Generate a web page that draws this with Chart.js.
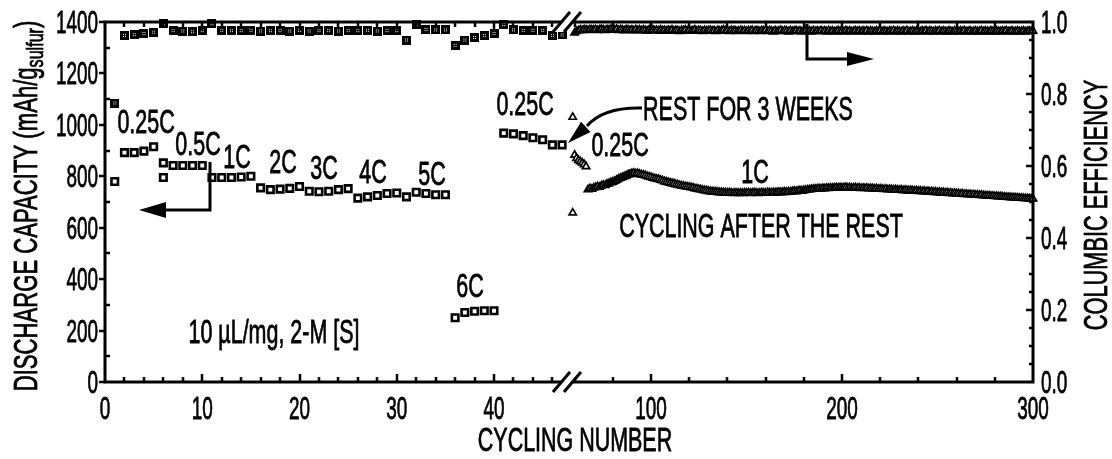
<!DOCTYPE html>
<html>
<head>
<meta charset="utf-8">
<script src="https://cdn.jsdelivr.net/npm/chart.js@4.4.1/dist/chart.umd.min.js"></script>
<style>
  html, body { margin: 0; padding: 0; background: #fff; }
  canvas { display: block; }
</style>
</head>
<body>
<canvas id="chart" width="1112" height="459"></canvas>
<script>
// ---- Rate test (cycles 1-47), hollow squares on the capacity axis ----
const rateCycles = [1, 2, 3, 4, 5, 6, 6, 7, 8, 9, 10, 11, 12, 13, 14, 15, 16, 17, 18, 19, 20,
  21, 22, 23, 24, 25, 26, 27, 28, 29, 30, 31, 32, 33, 34, 35, 36, 37, 38, 39, 40,
  41, 42, 43, 44, 45, 46, 47];
const rateCapacity = [780, 892, 892, 898, 915, 852, 795, 842, 842, 842, 842,
  795, 795, 795, 797, 800, 755, 748, 750, 753, 760,
  742, 740, 742, 748, 752, 715, 720, 725, 733, 735,
  720, 738, 733, 728, 728, 250, 270, 275, 277, 277,
  968, 965, 958, 950, 942, 922, 922];

// Coulombic efficiency of the rate test, cycles 1-47
const rateEffStart = 1;
const rateEfficiency = [0.775, 0.963, 0.965, 0.968, 0.972, 0.995, 0.976, 0.975, 0.973, 0.976,
  0.995, 0.977, 0.976, 0.976, 0.977, 0.975, 0.976, 0.976, 0.975, 0.977,
  0.975, 0.976, 0.976, 0.975, 0.976, 0.976, 0.977, 0.975, 0.976, 0.976,
  0.950, 0.992, 0.979, 0.978, 0.978, 0.935, 0.950, 0.957, 0.963, 0.968,
  0.993, 0.978, 0.977, 0.977, 0.977, 0.963, 0.964];

// ---- After the 3-week rest (cycles 59-300), triangles ----
const restStart = 59;
const restCapacity = [1030,
  883, 870, 862, 857, 852, 846, 838,
  748, 752, 750, 755, 757, 760, 758, 763, 766, 765,
  770, 772, 776, 778, 781, 785, 790, 793, 796, 799,
  802, 806, 808, 811, 812, 810, 811, 808, 806, 805,
  803, 800, 798, 796, 793, 791, 789, 788, 785, 783,
  780, 778, 776, 774, 772, 771, 768, 767, 765, 763,
  762, 760, 759, 758, 756, 755, 752, 751, 749, 748,
  746, 745, 744, 742, 741, 740, 739, 739, 738, 737,
  737, 736, 736, 735, 736, 735, 734, 735, 735, 734,
  735, 734, 735, 735, 736, 734, 735, 736, 735, 734,
  735, 736, 735, 735, 737, 736, 735, 737, 736, 737,
  738, 737, 738, 739, 738, 740, 739, 741, 742, 741,
  743, 744, 743, 745, 746, 747, 748, 749, 750, 750,
  751, 752, 751, 753, 752, 754, 753, 755, 754, 755,
  756, 755, 756, 755, 756, 757, 755, 756, 754, 755,
  756, 754, 755, 753, 754, 753, 754, 752, 753, 752,
  751, 752, 750, 751, 750, 749, 750, 748, 749, 748,
  747, 748, 747, 746, 747, 745, 746, 745, 744, 745,
  744, 743, 744, 742, 743, 741, 742, 740, 741, 739,
  740, 738, 739, 737, 738, 736, 737, 735, 736, 734,
  735, 733, 734, 732, 733, 731, 732, 730, 731, 729,
  730, 728, 729, 727, 728, 726, 727, 725, 725, 724,
  724, 723, 723, 722, 722, 721, 721, 720, 719, 719,
  718, 718, 717, 717, 716, 716, 715, 715, 714, 714,
  713, 713, 712, 712];
const restEfficiency = [0.47,
  0.970, 0.974, 0.976, 0.978, 0.977, 0.979, 0.978, 0.977, 0.979, 0.978,
  0.978, 0.979, 0.977, 0.978, 0.980, 0.978, 0.977, 0.979, 0.978, 0.980,
  0.979, 0.978, 0.980, 0.977, 0.979, 0.978, 0.976, 0.979, 0.978, 0.977,
  0.978, 0.976, 0.979, 0.977, 0.978, 0.976, 0.978, 0.977, 0.975, 0.978,
  0.977, 0.978, 0.976, 0.977, 0.975, 0.978, 0.976, 0.977, 0.975, 0.977,
  0.976, 0.978, 0.975, 0.977, 0.976, 0.974, 0.977, 0.976, 0.978, 0.975,
  0.977, 0.975, 0.976, 0.978, 0.975, 0.977, 0.976, 0.974, 0.977, 0.975,
  0.976, 0.977, 0.975, 0.976, 0.974, 0.977, 0.975, 0.976, 0.978, 0.975,
  0.976, 0.974, 0.977, 0.975, 0.976, 0.974, 0.975, 0.977, 0.975, 0.976,
  0.974, 0.976, 0.975, 0.977, 0.974, 0.976, 0.975, 0.974, 0.976, 0.975,
  0.977, 0.974, 0.976, 0.975, 0.973, 0.976, 0.974, 0.975, 0.977, 0.974,
  0.976, 0.975, 0.973, 0.976, 0.974, 0.975, 0.976, 0.974, 0.975, 0.973,
  0.975, 0.976, 0.974, 0.975, 0.973, 0.976, 0.974, 0.975, 0.974, 0.976,
  0.974, 0.975, 0.973, 0.976, 0.974, 0.975, 0.973, 0.974, 0.976, 0.974,
  0.975, 0.973, 0.976, 0.974, 0.975, 0.973, 0.974, 0.976, 0.974, 0.975,
  0.973, 0.975, 0.974, 0.976, 0.973, 0.975, 0.974, 0.973, 0.975, 0.974,
  0.976, 0.973, 0.975, 0.974, 0.973, 0.975, 0.974, 0.976, 0.973, 0.975,
  0.974, 0.973, 0.975, 0.974, 0.976, 0.973, 0.974, 0.975, 0.973, 0.975,
  0.974, 0.973, 0.975, 0.974, 0.976, 0.973, 0.975, 0.974, 0.973, 0.975,
  0.974, 0.976, 0.973, 0.975, 0.974, 0.973, 0.975, 0.974, 0.973, 0.975,
  0.974, 0.973, 0.975, 0.974, 0.976, 0.973, 0.974, 0.975, 0.973, 0.974,
  0.975, 0.973, 0.974, 0.976, 0.973, 0.975, 0.974, 0.973, 0.975, 0.974,
  0.973, 0.975, 0.974, 0.973, 0.975, 0.974, 0.976, 0.973, 0.974, 0.975,
  0.973, 0.974, 0.975, 0.973, 0.974, 0.975, 0.973, 0.974, 0.975, 0.974,
  0.975];

// ---- Axis ticks ----
const cycleTicks = [0, 10, 20, 30, 40, 100, 200, 300];
const capacityTicks = [0, 200, 400, 600, 800, 1000, 1200, 1400];
const efficiencyTicks = [0, 0.2, 0.4, 0.6, 0.8, 1.0];
const efficiencyTickLabels = ['0.0', '0.2', '0.4', '0.6', '0.8', '1.0'];

// Broken cycle axis: 0-47.5 fills the left half, 56-300 the right half
const BREAK_LEFT = 47.5;
const BREAK_RIGHT = 56;
const CYCLE_MAX = 300;
const LEFT_SHARE = 0.4978;

function brokenFraction(v) {
  if (v <= BREAK_LEFT) return (v / BREAK_LEFT) * LEFT_SHARE;
  if (v < BREAK_RIGHT) return LEFT_SHARE;
  return LEFT_SHARE + ((v - BREAK_RIGHT) / (CYCLE_MAX - BREAK_RIGHT)) * (1 - LEFT_SHARE);
}
function brokenValue(f) {
  if (f <= LEFT_SHARE) return (f / LEFT_SHARE) * BREAK_LEFT;
  return BREAK_RIGHT + ((f - LEFT_SHARE) / (1 - LEFT_SHARE)) * (CYCLE_MAX - BREAK_RIGHT);
}

class BrokenLinearScale extends Chart.LinearScale {
  getPixelForValue(value) {
    return this.getPixelForDecimal(brokenFraction(value));
  }
  getValueForPixel(pixel) {
    return brokenValue(this.getDecimalForPixel(pixel));
  }
}
BrokenLinearScale.id = 'brokenLinear';
Chart.register(BrokenLinearScale);

// Dotted square marker for the efficiency points of the rate test
function dottedSquare() {
  const c = document.createElement('canvas');
  c.width = 9; c.height = 9;
  const g = c.getContext('2d');
  g.fillStyle = '#000';
  g.fillRect(0, 0, 9, 9);
  g.fillStyle = '#fff';
  for (const i of [3, 5]) for (const j of [3, 5]) g.fillRect(i, j, 1, 1);
  return c;
}

const FONT = '"Liberation Sans", Arial, Helvetica, sans-serif';

function drawText(ctx, s, x, y, opts = {}) {
  const size = opts.size || 33;
  const sx = opts.sx || 0.65;
  ctx.save();
  ctx.translate(x, y);
  if (opts.rot) ctx.rotate(opts.rot);
  ctx.scale(sx, 1);
  ctx.font = size + 'px ' + FONT;
  ctx.textAlign = opts.align || 'center';
  ctx.textBaseline = 'alphabetic';
  ctx.fillStyle = '#000';
  ctx.strokeStyle = '#000';
  ctx.lineWidth = 0.8;
  ctx.fillText(s, 0, 0);
  ctx.strokeText(s, 0, 0);
  ctx.restore();
}

function line(ctx, pts, w) {
  ctx.beginPath();
  ctx.moveTo(pts[0][0], pts[0][1]);
  for (let i = 1; i < pts.length; i++) ctx.lineTo(pts[i][0], pts[i][1]);
  ctx.lineWidth = w;
  ctx.stroke();
}
function head(ctx, tip, from, len, half) {
  const dx = tip[0] - from[0], dy = tip[1] - from[1];
  const d = Math.hypot(dx, dy);
  const ux = dx / d, uy = dy / d;
  const bx = tip[0] - ux * len, by = tip[1] - uy * len;
  ctx.beginPath();
  ctx.moveTo(tip[0], tip[1]);
  ctx.lineTo(bx - uy * half, by + ux * half);
  ctx.lineTo(bx + uy * half, by - ux * half);
  ctx.closePath();
  ctx.fill();
}

const frameAndNotes = {
  id: 'frameAndNotes',
  afterDraw(chart) {
    const { ctx, chartArea: a, scales } = chart;
    const xs = scales.x, yc = scales.y, ye = scales.y1;
    ctx.save();
    ctx.strokeStyle = '#000';
    ctx.fillStyle = '#000';
    ctx.lineCap = 'butt';

    // frame
    ctx.lineWidth = 3;
    ctx.strokeRect(a.left, a.top, a.right - a.left, a.bottom - a.top);

    // cycle ticks (bottom and top, pointing inward)
    const minorCycles = [];
    for (let c = 2; c <= 46; c += 2) if (c % 10) minorCycles.push(c);
    for (let c = 60; c < 300; c += 20) if (c % 100) minorCycles.push(c);
    const tickX = (c, len) => {
      const p = Math.round(xs.getPixelForValue(c));
      line(ctx, [[p, a.bottom], [p, a.bottom - len]], 2.5);
      line(ctx, [[p, a.top], [p, a.top + len]], 2.5);
    };
    cycleTicks.forEach(c => { if (c > 0 && c < CYCLE_MAX) tickX(c, 8); });
    minorCycles.forEach(c => tickX(c, 5));

    // capacity ticks (left)
    capacityTicks.forEach(v => {
      const p = Math.round(yc.getPixelForValue(v));
      line(ctx, [[a.left - 6, p], [a.left, p]], 2.5);
    });
    for (let v = 100; v < 1400; v += 200) {
      const p = Math.round(yc.getPixelForValue(v));
      line(ctx, [[a.left, p], [a.left + 5, p]], 2.5);
    }
    // efficiency ticks (right)
    for (let k = 1; k < 20; k++) {
      const p = Math.round(ye.getPixelForValue(k * 0.05));
      const len = k % 4 === 0 ? 7 : 4;
      line(ctx, [[a.right, p], [a.right - len, p]], 2.5);
    }

    // tick labels
    cycleTicks.forEach(c => {
      drawText(ctx, String(c), xs.getPixelForValue(c), 419, { size: 31, sx: 0.61 });
    });
    capacityTicks.forEach(v => {
      drawText(ctx, String(v), 98, yc.getPixelForValue(v) + 11, { size: 31, sx: 0.61, align: 'right' });
    });
    efficiencyTicks.forEach((v, i) => {
      drawText(ctx, efficiencyTickLabels[i], a.right + 8, ye.getPixelForValue(v) + 11, { size: 31, sx: 0.61, align: 'left' });
    });

    // axis titles
    drawText(ctx, 'CYCLING NUMBER', 575, 451);
    drawText(ctx, 'COLUMBIC EFFICIENCY', 1107, 205, { rot: -Math.PI / 2, sx: 0.66 });
    {
      // DISCHARGE CAPACITY (mAh/g_sulfur), drawn bottom-to-top
      const sx = 0.67;
      const parts = [
        { t: 'DISCHARGE CAPACITY (mAh/g', size: 33, dy: 0 },
        { t: 'sulfur', size: 24, dy: 6 },
        { t: ')', size: 33, dy: 0 }
      ];
      let total = 0;
      parts.forEach(p => { ctx.font = p.size + 'px ' + FONT; p.w = ctx.measureText(p.t).width * sx; total += p.w; });
      ctx.save();
      ctx.translate(37, 206);
      ctx.rotate(-Math.PI / 2);
      let pos = -total / 2;
      parts.forEach(p => {
        drawText(ctx, p.t, pos, p.dy, { size: p.size, sx, align: 'left' });
        pos += p.w;
      });
      ctx.restore();
    }

    // break marks on the cycle axis
    const xb = xs.getPixelForValue(BREAK_LEFT);
    [a.bottom, a.top].forEach(yb => {
      const l1 = [[xb - 14, yb + 10], [xb + 3, yb - 10]];
      const l2 = [[xb - 3, yb + 10], [xb + 14, yb - 10]];
      ctx.fillStyle = '#fff';
      ctx.beginPath();
      ctx.moveTo(l1[0][0], l1[0][1]); ctx.lineTo(l1[1][0], l1[1][1]);
      ctx.lineTo(l2[1][0], l2[1][1]); ctx.lineTo(l2[0][0], l2[0][1]);
      ctx.closePath(); ctx.fill();
      ctx.fillStyle = '#000';
      line(ctx, l1, 3);
      line(ctx, l2, 3);
    });

    // rate labels
    drawText(ctx, '0.25C', 146, 133);
    drawText(ctx, '0.5C', 198, 155);
    drawText(ctx, '1C', 237, 168);
    drawText(ctx, '2C', 283, 173);
    drawText(ctx, '3C', 324, 179);
    drawText(ctx, '4C', 373, 183);
    drawText(ctx, '5C', 432, 185);
    drawText(ctx, '6C', 470, 297);
    drawText(ctx, '0.25C', 525, 115);
    drawText(ctx, 'REST FOR 3 WEEKS', 748, 120);
    drawText(ctx, '0.25C', 620, 156);
    drawText(ctx, '1C', 755, 183);
    drawText(ctx, 'CYCLING AFTER THE REST', 761, 237);
    drawText(ctx, '10 \u00b5L/mg, 2-M [S]', 274, 343);

    // arrow to the capacity axis
    line(ctx, [[210, 162], [210, 210], [164, 210]], 3);
    head(ctx, [139, 210], [166, 210], 27, 8);
    // arrow to the efficiency axis
    line(ctx, [[807, 24], [807, 59], [850, 59]], 3);
    head(ctx, [874, 59], [848, 59], 27, 7);
    // curved arrow from the rest note
    ctx.beginPath();
    ctx.moveTo(642, 108);
    ctx.quadraticCurveTo(603, 107, 587, 126);
    ctx.lineWidth = 3;
    ctx.stroke();
    head(ctx, [568, 143], [589, 124], 24, 7);

    ctx.restore();
  }
};

const toPoints = (xs, ys) => ys.map((y, i) => ({ x: xs[i], y }));
const fromStart = (start, ys) => ys.map((y, i) => ({ x: start + i, y }));

new Chart(document.getElementById('chart'), {
  type: 'scatter',
  data: {
    datasets: [
      {
        label: 'Discharge capacity, rate test',
        data: toPoints(rateCycles, rateCapacity),
        yAxisID: 'y',
        pointStyle: 'rect',
        radius: 4.6,
        borderWidth: 2.6,
        borderColor: '#000',
        backgroundColor: '#fff',
        clip: false
      },
      {
        label: 'Coulombic efficiency, rate test',
        data: fromStart(rateEffStart, rateEfficiency),
        yAxisID: 'y1',
        pointStyle: dottedSquare(),
        radius: 4.5,
        clip: false
      },
      {
        label: 'Discharge capacity after rest',
        data: fromStart(restStart, restCapacity),
        yAxisID: 'y',
        pointStyle: 'triangle',
        radius: 4.2,
        borderWidth: 1.7,
        borderColor: '#000',
        backgroundColor: '#fff',
        clip: false
      },
      {
        label: 'Coulombic efficiency after rest',
        data: fromStart(restStart, restEfficiency),
        yAxisID: 'y1',
        pointStyle: 'triangle',
        radius: 4.2,
        borderWidth: 1.7,
        borderColor: '#000',
        backgroundColor: '#fff',
        clip: false
      }
    ]
  },
  options: {
    responsive: false,
    animation: false,
    devicePixelRatio: 1,
    layout: { padding: { left: 105, top: 22, right: 79, bottom: 77 } },
    plugins: { legend: { display: false }, tooltip: { enabled: false } },
    scales: {
      x: { type: 'brokenLinear', min: 0, max: CYCLE_MAX, display: false },
      y: { type: 'linear', min: 0, max: 1400, display: false },
      y1: { type: 'linear', position: 'right', min: 0, max: 1, display: false }
    }
  },
  plugins: [frameAndNotes]
});
</script>
</body>
</html>
